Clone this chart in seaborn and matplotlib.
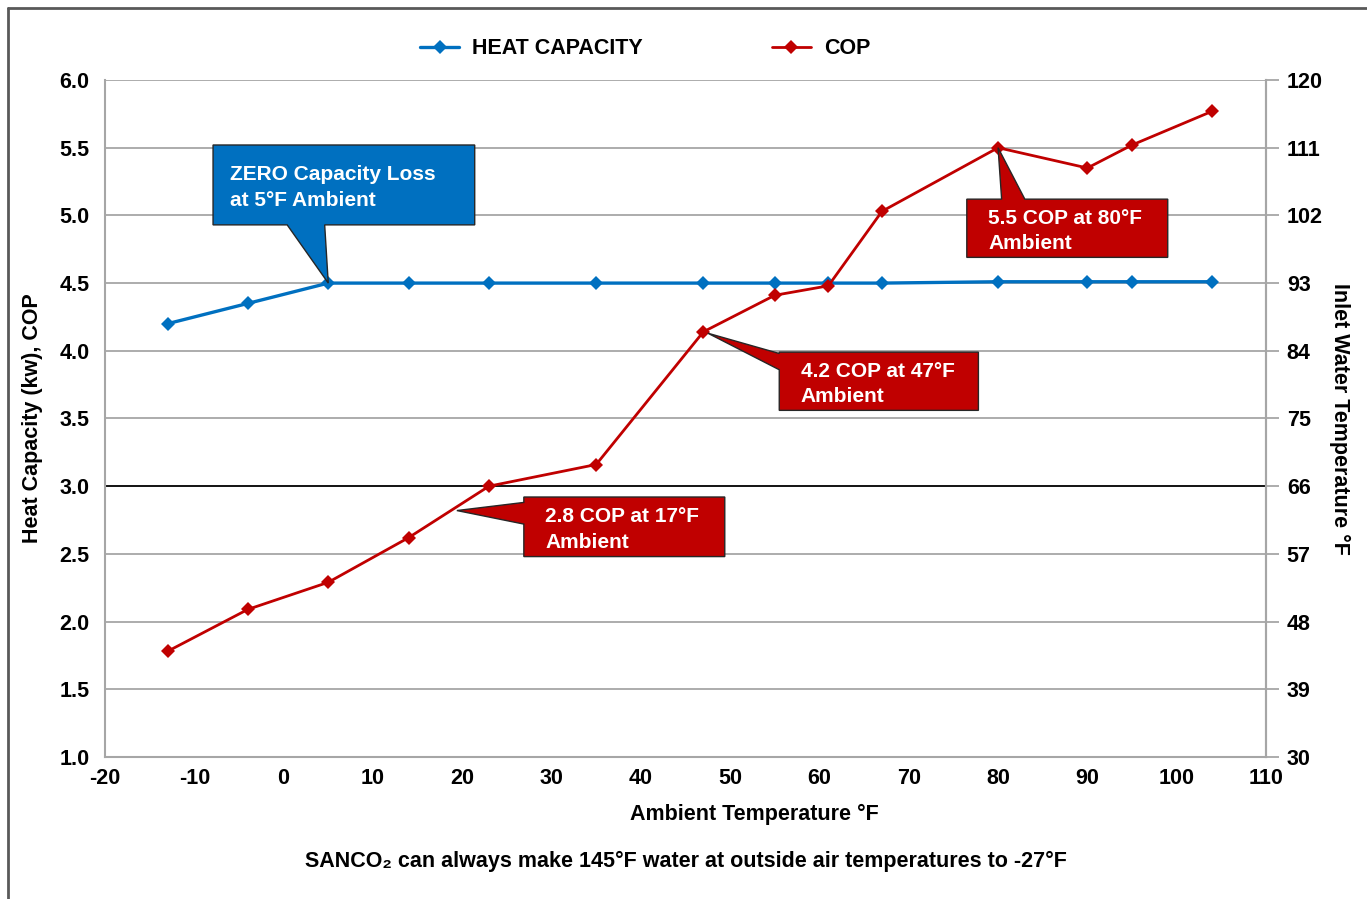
import numpy as np
import pandas as pd
import seaborn as sns
import matplotlib.pyplot as plt
from matplotlib.patches import Polygon
from matplotlib.lines import Line2D

sns.set_theme(style="white")
plt.rcParams['font.family'] = ['Liberation Sans', 'DejaVu Sans']
plt.rcParams['font.weight'] = 'bold'
plt.rcParams['text.color'] = 'black'
plt.rcParams['axes.labelcolor'] = 'black'
plt.rcParams['xtick.color'] = 'black'
plt.rcParams['ytick.color'] = 'black'
plt.rcParams['axes.unicode_minus'] = False

# ambient temperature (°F) for each test point
ambient = [-13, -4, 5, 14, 23, 35, 47, 55, 61, 67, 80, 90, 95, 104]
heat_capacity = [4.20, 4.35, 4.50, 4.50, 4.50, 4.50, 4.50, 4.50, 4.50, 4.50, 4.51, 4.51, 4.51, 4.51]
cop = [1.78, 2.09, 2.29, 2.62, 3.00, 3.16, 4.14, 4.41, 4.48, 5.03, 5.50, 5.35, 5.52, 5.77]

left_ticks = [1.0, 1.5, 2.0, 2.5, 3.0, 3.5, 4.0, 4.5, 5.0, 5.5, 6.0]
right_ticks = [30, 39, 48, 57, 66, 75, 84, 93, 102, 111, 120]
x_ticks = list(range(-20, 111, 10))

BLUE = "#0070C0"
RED = "#C00000"
GRID = "#A6A6A6"
FS = 15.5

df = pd.DataFrame({"ambient": ambient, "heat": heat_capacity, "cop": cop})

fig = plt.figure(figsize=(13.67, 8.99), dpi=100)
ax = fig.add_axes([0.0768, 0.158, 0.8493, 0.753])

sns.lineplot(data=df, x="ambient", y="heat", ax=ax, color=BLUE, lw=2.4,
             marker="D", markersize=7, markeredgewidth=0, zorder=4)
sns.lineplot(data=df, x="ambient", y="cop", ax=ax, color=RED, lw=2.0,
             marker="D", markersize=7, markeredgewidth=0, zorder=4)

ax.set_xlim(-20, 110)
ax.set_ylim(1.0, 6.0)
ax.set_xticks(x_ticks)
ax.set_yticks(left_ticks)
ax.set_yticklabels([f"{v:.1f}" for v in left_ticks])
for v in left_ticks[1:]:
    ax.axhline(v, color="black" if v == 3.0 else GRID, lw=1.3, zorder=1)

ax.tick_params(axis="x", direction="in", length=9, width=1.3, color=GRID,
               labelcolor="black", labelsize=FS, pad=8)
ax.tick_params(axis="y", length=0, labelsize=FS, pad=11)
for lab in ax.get_xticklabels() + ax.get_yticklabels():
    lab.set_fontweight("bold")
for s in ["left", "bottom", "right"]:
    ax.spines[s].set_color(GRID)
    ax.spines[s].set_linewidth(1.5)
ax.spines["top"].set_visible(False)

ax.set_xlabel("Ambient Temperature °F", fontsize=FS, fontweight="bold")
ax.xaxis.set_label_coords(0.559, -0.069)
ax.set_ylabel("Heat Capacity (kw), COP", fontsize=FS, fontweight="bold", labelpad=12)

ax2 = ax.twinx()
ax2.set_ylim(30, 120)
ax2.set_yticks(right_ticks)
ax2.tick_params(axis="y", direction="out", length=9, width=1.3, color=GRID,
                labelcolor="black", labelsize=FS, pad=6)
for lab in ax2.get_yticklabels():
    lab.set_fontweight("bold")
for s in ["left", "bottom", "top"]:
    ax2.spines[s].set_visible(False)
ax2.spines["right"].set_color(GRID)
ax2.spines["right"].set_linewidth(1.5)
ax2.set_ylabel("Inlet Water Temperature °F", fontsize=FS, fontweight="bold",
               rotation=270, labelpad=20)
ax2.grid(False)


def callout(box, side, base, tip, color, text, pad=1.9):
    x0, x1, y0, y1 = box
    a, b = base
    if side == "bottom":
        pts = [(x0, y1), (x1, y1), (x1, y0), (b, y0), tip, (a, y0), (x0, y0)]
    elif side == "top":
        pts = [(x0, y1), (a, y1), tip, (b, y1), (x1, y1), (x1, y0), (x0, y0)]
    else:
        pts = [(x0, y1), (x1, y1), (x1, y0), (x0, y0), (x0, a), tip, (x0, b)]
    ax.add_patch(Polygon(pts, closed=True, facecolor=color, edgecolor="#262626",
                         lw=1.0, zorder=6))
    ax.text(x0 + pad, (y0 + y1) / 2 - 0.02, text, color="white", fontsize=15,
            fontweight="bold", ha="left", va="center", linespacing=1.45, zorder=7)


callout((-7.9, 21.4, 4.93, 5.52), "bottom", (0.4, 4.6), (5, 4.5), BLUE,
        "ZERO Capacity Loss\nat 5°F Ambient")
callout((76.5, 99.0, 4.69, 5.12), "top", (80.4, 83.0), (80, 5.5), RED,
        "5.5 COP at 80°F\nAmbient", pad=2.4)
callout((55.5, 77.8, 3.56, 3.99), "left", (3.86, 3.98), (47.5, 4.13), RED,
        "4.2 COP at 47°F\nAmbient", pad=2.4)
callout((26.9, 49.4, 2.48, 2.92), "left", (2.72, 2.88), (19.4, 2.82), RED,
        "2.8 COP at 17°F\nAmbient", pad=2.4)

handles = [Line2D([], [], color=BLUE, lw=2.4, marker="D", markersize=7, markeredgewidth=0),
           Line2D([], [], color=RED, lw=2.0, marker="D", markersize=7, markeredgewidth=0)]
fig.legend(handles, ["HEAT CAPACITY", "COP"], loc="center", bbox_to_anchor=(0.472, 0.946),
           ncol=2, frameon=False, columnspacing=6.0, handlelength=1.8, handletextpad=0.6,
           prop={"size": FS, "weight": "bold"})

fig.text(0.502, 0.042, "SANCO\u2082 can always make 145°F water at outside air temperatures to -27°F",
         ha="center", va="center", fontsize=FS, fontweight="bold")

# outer frame of the original image (left and top edges only)
fig.add_artist(Line2D([0.0055, 0.0055], [0.0, 0.991], color="#595959", lw=2))
fig.add_artist(Line2D([0.0055, 1.0], [0.991, 0.991], color="#595959", lw=2))

fig.savefig("out.png", dpi=100)
